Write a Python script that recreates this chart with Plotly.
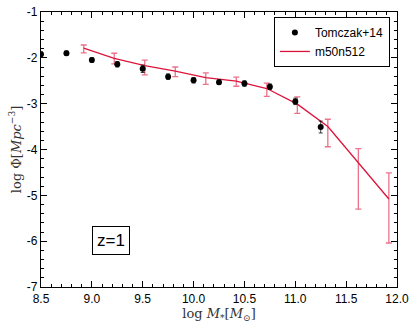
import plotly.graph_objects as go

# Tomczak+14 observed stellar mass function, z=1
tom_logm = [8.5, 8.75, 9.0, 9.25, 9.5, 9.75, 10.0, 10.25, 10.5, 10.75, 11.0, 11.25]
tom_phi = [-1.92, -1.90, -2.05, -2.14, -2.24, -2.41, -2.49, -2.53, -2.56, -2.63, -2.95, -3.51]
tom_err = [0.05, 0.05, 0.05, 0.06, 0.08, 0.06, 0.06, 0.05, 0.06, 0.06, 0.07, 0.13]

# m50n512 simulation
sim_logm = [8.92, 9.22, 9.52, 9.82, 10.12, 10.42, 10.72, 11.02, 11.32, 11.62, 11.92]
sim_phi = [-1.79, -2.01, -2.17, -2.29, -2.43, -2.51, -2.67, -3.01, -3.50, -4.29, -5.08]
sim_err_up = [0.07, 0.11, 0.12, 0.09, 0.10, 0.09, 0.12, 0.16, 0.16, 0.31, 0.57]
sim_err_dn = [0.10, 0.12, 0.20, 0.12, 0.15, 0.11, 0.17, 0.20, 0.44, 1.01, 0.96]

y_ticks = [-7, -6, -5, -4, -3, -2, -1]
y_labels = ["-7", "-6", "-5", "-4", "-3", "-2", "-1"]
x_ticks = [8.5, 9.0, 9.5, 10.0, 10.5, 11.0, 11.5, 12.0]

RED = "rgb(220,20,60)"

fig = go.Figure()

fig.add_trace(go.Scatter(
    x=sim_logm, y=sim_phi, mode="lines", name="m50n512",
    line=dict(color=RED, width=1.3),
    error_y=dict(type="data", array=sim_err_up, arrayminus=sim_err_dn,
                 color="rgba(220,20,60,0.6)", thickness=1.3, width=3),
))

fig.add_trace(go.Scatter(
    x=tom_logm, y=tom_phi, mode="markers", name="Tomczak+14",
    marker=dict(color="black", size=6),
    error_y=dict(type="data", array=tom_err, color="rgba(0,0,0,0.75)",
                 thickness=1, width=2),
))

fig.add_annotation(
    x=0.143, y=0.116, xref="paper", yref="paper", text="z=1", showarrow=False,
    font=dict(family="Liberation Sans", size=17, color="black"),
    bordercolor="black", borderwidth=1, borderpad=4, bgcolor="white",
)

axis_common = dict(
    showline=True, linecolor="black", linewidth=1.3, mirror="ticks",
    ticks="inside", ticklen=6, tickcolor="black", showgrid=False, zeroline=False,
    tickfont=dict(family="Liberation Sans", size=12, color="black"),
    automargin=False, ticklabeloverflow="allow",
)

fig.update_xaxes(
    range=[8.5, 12.0], tickvals=x_ticks, tickformat=".1f",
    minor=dict(ticks="inside", dtick=0.1, ticklen=3, tickcolor="black"),
    title=dict(text="log <i>M</i><sub>*</sub>[<i>M</i><sub>⊙</sub>]",
               font=dict(family="DejaVu Serif", size=13, color="#333"), standoff=4),
    **axis_common,
)
fig.update_yaxes(
    range=[-7, -1], tickvals=y_ticks, ticktext=y_labels,
    minor=dict(ticks="inside", dtick=0.2, ticklen=3, tickcolor="black"),
    title=dict(text="log Φ[<i>Mpc</i><sup>−3</sup>]",
               font=dict(family="DejaVu Serif", size=13, color="#333"), standoff=2),
    **axis_common,
)

fig.update_layout(
    width=415, height=328,
    margin=dict(l=41, r=18, t=12, b=41),
    paper_bgcolor="white", plot_bgcolor="white",
    legend=dict(
        x=0.98, y=0.982, xanchor="right", yanchor="top", traceorder="reversed",
        bordercolor="black", borderwidth=1, bgcolor="white",
        font=dict(family="Liberation Sans", size=12, color="black"),
        itemwidth=30, tracegroupgap=0,
    ),
)

# the page body has a default 8px margin; drop it so the figure fills the window
fig.write_html("out.html", config={"displayModeBar": False},
               post_script="document.body.style.margin='0';")
